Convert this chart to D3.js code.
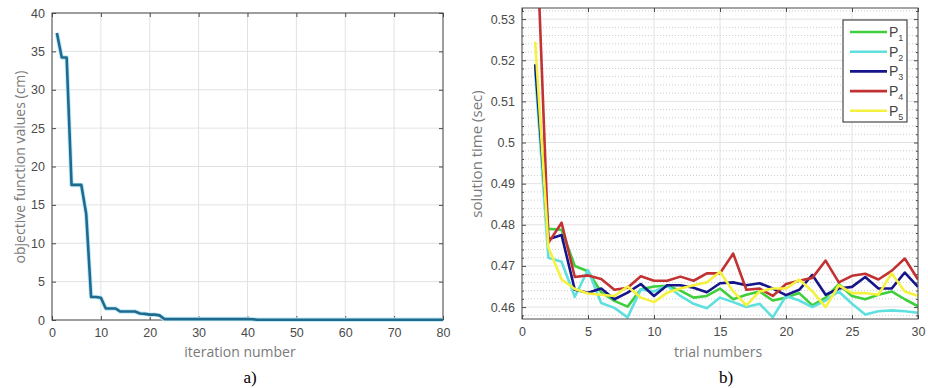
<!DOCTYPE html>
<html><head><meta charset="utf-8">
<script src="https://cdn.jsdelivr.net/npm/d3@7"></script>
<style>
body{margin:0;background:#fff;}
svg{display:block;font-family:"Liberation Sans",Arial,sans-serif;}
</style></head>
<body><svg id="c" width="928" height="388"></svg>
<script>
// ---- Data: chart a) ----
const objectiveValues = [
 37.4, 34.2, 34.2, 17.6, 17.6, 17.6, 13.8, 3.0, 3.0, 2.9,
 1.5, 1.5, 1.5, 1.1, 1.1, 1.1, 1.1, 0.85, 0.8, 0.7,
 0.7, 0.6, 0.12, 0.12, 0.12, 0.12, 0.12, 0.12, 0.12, 0.12,
 0.12, 0.12, 0.12, 0.12, 0.12, 0.12, 0.12, 0.12, 0.12, 0.12,
 0.1, 0.03, 0.03, 0.03, 0.03, 0.03, 0.03, 0.03, 0.03, 0.03,
 0.03, 0.03, 0.03, 0.03, 0.03, 0.03, 0.03, 0.03, 0.03, 0.03,
 0.03, 0.03, 0.03, 0.03, 0.03, 0.03, 0.03, 0.03, 0.03, 0.03,
 0.03, 0.03, 0.03, 0.03, 0.03, 0.03, 0.03, 0.03, 0.03, 0.03];
const aXTicks = [0,10,20,30,40,50,60,70,80];
const aYTicks = [0,5,10,15,20,25,30,35,40];

// ---- Data: chart b) ----
const seriesNames = ["1","2","3","4","5"];
const P1 = [0.519,0.479,0.4788,0.470,0.4687,0.4636,0.4615,0.4601,0.4643,0.465,0.4652,0.464,0.4623,0.4627,0.4645,0.4619,0.463,0.4638,0.4616,0.4623,0.4634,0.4604,0.4623,0.4656,0.4627,0.4619,0.463,0.4638,0.4619,0.4602];
const P2 = [0.517,0.472,0.471,0.4625,0.469,0.461,0.4598,0.4575,0.4643,0.4638,0.4652,0.4627,0.4608,0.4597,0.4623,0.4612,0.46,0.4608,0.4575,0.4627,0.4616,0.46,0.4616,0.4638,0.4608,0.4582,0.459,0.4592,0.459,0.4586];
const P3 = [0.519,0.4765,0.4775,0.4642,0.4635,0.4645,0.4619,0.4635,0.4656,0.4627,0.4653,0.4653,0.4647,0.4636,0.4658,0.466,0.4653,0.4658,0.4645,0.4629,0.4642,0.4678,0.463,0.4645,0.4649,0.4673,0.4645,0.4645,0.4684,0.4649];
const P4 = [0.56,0.4756,0.4805,0.4673,0.4677,0.4668,0.4642,0.4647,0.4675,0.4664,0.4664,0.4674,0.4664,0.4682,0.4682,0.473,0.4642,0.4645,0.4627,0.4656,0.4664,0.4671,0.4713,0.466,0.4676,0.4681,0.4667,0.4688,0.4718,0.4667];
const P5 = [0.5245,0.4745,0.4667,0.4644,0.4633,0.463,0.4627,0.465,0.4623,0.4612,0.4635,0.4645,0.4653,0.466,0.4686,0.4638,0.4604,0.4638,0.4645,0.4645,0.4667,0.4638,0.46,0.4653,0.4634,0.4634,0.463,0.4682,0.4638,0.4627];
const bXTicks = [0,5,10,15,20,25,30];
const bYTicks = [0.46,0.47,0.48,0.49,0.50,0.51,0.52,0.53];
const bYTickLabels = ["0.46","0.47","0.48","0.49","0.5","0.51","0.52","0.53"];
const seriesColors = ["#3fcf3c","#5fe0de","#16168a","#c23232","#f4f23e"];

const svg = d3.select("#c");
const axisCol = "#4a4a4a", gridCol = "#e2e2e2", tickTextCol = "#4a4a4a", labelCol = "#7a7a7a";

function frame(g, x, y, w, h){
  g.append("rect").attr("x",x).attr("y",y).attr("width",w).attr("height",h)
   .attr("fill","none").attr("stroke",axisCol).attr("stroke-width",1);
}

// ================= Chart a =================
{
  const L=52, R=443, T=13, B=320;
  const x = d3.scaleLinear().domain([0,80]).range([L,R]);
  const y = d3.scaleLinear().domain([0,40]).range([B,T]);
  const g = svg.append("g");
  g.selectAll(".gx").data(aXTicks).join("line").attr("x1",d=>x(d)).attr("x2",d=>x(d))
   .attr("y1",T).attr("y2",B).attr("stroke",gridCol).attr("stroke-width",1);
  g.selectAll(".gy").data(aYTicks).join("line").attr("y1",d=>y(d)).attr("y2",d=>y(d))
   .attr("x1",L).attr("x2",R).attr("stroke",gridCol).attr("stroke-width",1);
  const ax = g.append("g").attr("transform",`translate(0,${B})`)
   .call(d3.axisBottom(x).tickValues(aXTicks).tickSize(-4).tickPadding(8));
  const axT = g.append("g").attr("transform",`translate(0,${T})`)
   .call(d3.axisTop(x).tickValues(aXTicks).tickSize(-4).tickFormat(""));
  const ay = g.append("g").attr("transform",`translate(${L},0)`)
   .call(d3.axisLeft(y).tickValues(aYTicks).tickSize(-4).tickPadding(7));
  const ayR = g.append("g").attr("transform",`translate(${R},0)`)
   .call(d3.axisRight(y).tickValues(aYTicks).tickSize(-4).tickFormat(""));
  [ax,axT,ay,ayR].forEach(a=>{a.select(".domain").remove();
    a.selectAll("line").attr("stroke",axisCol);
    a.selectAll("text").attr("fill",tickTextCol).style("font-size","12.5px").style("font-family","'Liberation Sans',Arial,sans-serif");});
  frame(g,L,T,R-L,B-T);
  const line = d3.line().x((d,i)=>x(i+1)).y(d=>y(d));
  g.append("path").datum(objectiveValues).attr("d",line).attr("fill","none")
   .attr("stroke","#bfeaf6").attr("stroke-width",4.5).attr("stroke-linejoin","round");
  g.append("path").datum(objectiveValues).attr("d",line).attr("fill","none")
   .attr("stroke","#1f6a8e").attr("stroke-width",2.6).attr("stroke-linejoin","round");
  g.append("text").attr("transform",`translate(20,167) rotate(-90)`).attr("text-anchor","middle")
   .attr("dy","0.35em")
   .attr("fill",labelCol).style("font-family","'Open Sans',sans-serif").style("font-size","14px").text("objective function values (cm)");
  g.append("text").attr("x",240).attr("y",357).attr("text-anchor","middle")
   .attr("fill",labelCol).style("font-family","'Open Sans',sans-serif").style("font-size","14px").text("iteration number");
  g.append("text").attr("x",250).attr("y",383).attr("text-anchor","middle")
   .attr("fill","#000").style("font-family","'Liberation Serif','Times New Roman',serif").style("font-size","17px").text("a)");
}

// ================= Chart b =================
{
  const L=522, R=918, T=8, B=319;
  const x = d3.scaleLinear().domain([0,30]).range([L,R]);
  const y = d3.scaleLinear().domain([0.4571,0.5327]).range([B,T]);
  const g = svg.append("g");
  const minorY = d3.range(0.458,0.5331,0.002).filter(v=>Math.abs(v*100-Math.round(v*100))>1e-6);
  g.selectAll(".my").data(minorY).join("line").attr("y1",d=>y(d)).attr("y2",d=>y(d))
   .attr("x1",L).attr("x2",R).attr("stroke","#cdcdcd").attr("stroke-width",1).attr("stroke-dasharray","1,2");
  g.selectAll(".gx").data(bXTicks).join("line").attr("x1",d=>x(d)).attr("x2",d=>x(d))
   .attr("y1",T).attr("y2",B).attr("stroke",gridCol).attr("stroke-width",1);
  g.selectAll(".gy").data(bYTicks).join("line").attr("y1",d=>y(d)).attr("y2",d=>y(d))
   .attr("x1",L).attr("x2",R).attr("stroke",gridCol).attr("stroke-width",1);
  const ax = g.append("g").attr("transform",`translate(0,${B})`)
   .call(d3.axisBottom(x).tickValues(bXTicks).tickSize(-4).tickPadding(8));
  const axT = g.append("g").attr("transform",`translate(0,${T})`)
   .call(d3.axisTop(x).tickValues(bXTicks).tickSize(-4).tickFormat(""));
  const ay = g.append("g").attr("transform",`translate(${L},0)`)
   .call(d3.axisLeft(y).tickValues(bYTicks).tickSize(-4).tickPadding(7).tickFormat((d,i)=>bYTickLabels[i]));
  const ayR = g.append("g").attr("transform",`translate(${R},0)`)
   .call(d3.axisRight(y).tickValues(bYTicks).tickSize(-4).tickFormat(""));
  const ayM = g.append("g").attr("transform",`translate(${L},0)`)
   .call(d3.axisLeft(y).tickValues(minorY).tickSize(-2).tickFormat(""));
  const ayMR = g.append("g").attr("transform",`translate(${R},0)`)
   .call(d3.axisRight(y).tickValues(minorY).tickSize(-2).tickFormat(""));
  [ax,axT,ay,ayR,ayM,ayMR].forEach(a=>{a.select(".domain").remove();
    a.selectAll("line").attr("stroke",axisCol);
    a.selectAll("text").attr("fill",tickTextCol).style("font-size","12.5px").style("font-family","'Liberation Sans',Arial,sans-serif");});
  svg.append("defs").append("clipPath").attr("id","clipb").append("rect")
   .attr("x",L).attr("y",T).attr("width",R-L).attr("height",B-T);
  const series = [P1,P2,P3,P4,P5];
  const line = d3.line().x((d,i)=>x(i+1)).y(d=>y(d));
  const lg = g.append("g").attr("clip-path","url(#clipb)");
  series.forEach((s,k)=>{
    lg.append("path").datum(s).attr("d",line).attr("fill","none")
     .attr("stroke",seriesColors[k]).attr("stroke-width",2.6).attr("stroke-linejoin","round");
  });
  frame(g,L,T,R-L,B-T);
  const lgX=843, lgY=20, lgW=64, lgH=102;
  g.append("rect").attr("x",lgX).attr("y",lgY).attr("width",lgW).attr("height",lgH)
   .attr("fill","#fff").attr("stroke","#222").attr("stroke-width",1);
  seriesNames.forEach((n,k)=>{
    const yy = lgY + 12 + k*19.7;
    g.append("line").attr("x1",850).attr("x2",887).attr("y1",yy).attr("y2",yy)
     .attr("stroke",seriesColors[k]).attr("stroke-width",2.6);
    const t = g.append("text").attr("x",889).attr("y",yy+5).attr("fill","#444")
     .style("font-size","14px").style("font-family","'Liberation Sans',Arial,sans-serif");
    t.append("tspan").text("P");
    t.append("tspan").attr("dy",4).style("font-size","9px").text(n);
  });
  g.append("text").attr("transform",`translate(477,154) rotate(-90)`).attr("text-anchor","middle")
   .attr("dy","0.35em")
   .attr("fill",labelCol).style("font-family","'Open Sans',sans-serif").style("font-size","15px").text("solution time (sec)");
  g.append("text").attr("x",718).attr("y",357).attr("text-anchor","middle")
   .attr("fill",labelCol).style("font-family","'Open Sans',sans-serif").style("font-size","14px").text("trial numbers");
  g.append("text").attr("x",726).attr("y",383).attr("text-anchor","middle")
   .attr("fill","#000").style("font-family","'Liberation Serif','Times New Roman',serif").style("font-size","17px").text("b)");
}
</script></body></html>
